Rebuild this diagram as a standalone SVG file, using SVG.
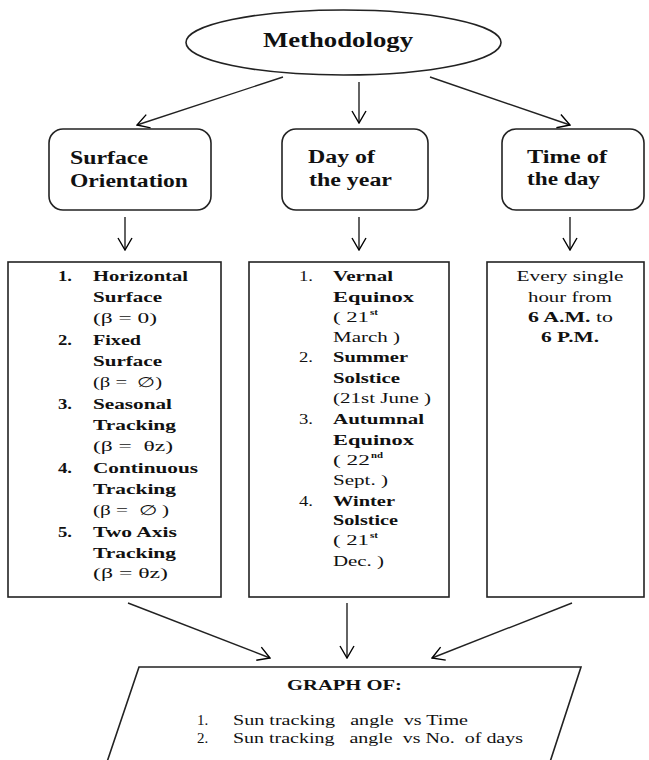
<svg xmlns="http://www.w3.org/2000/svg" width="649" height="760" viewBox="0 0 649 760">
<defs>
<marker id="arr" viewBox="0 0 14 16" refX="13" refY="8" markerWidth="14" markerHeight="16" markerUnits="userSpaceOnUse" orient="auto">
<path d="M1,1 L13,8 L1,15" fill="none" stroke="#000" stroke-width="1.4"/>
</marker>
<style>
.shape{fill:#fff;stroke:#222;stroke-width:1.6}
.conn{stroke:#222;stroke-width:1.4;fill:none;marker-end:url(#arr)}
text{font-family:"Liberation Serif","Times New Roman",serif;fill:#111;white-space:pre}
.t{font-size:21px;font-weight:bold}
.h{font-size:18px;font-weight:bold}
.b{font-size:14px;font-weight:bold}
.r{font-size:14px}
.g{font-size:15px}
.gb{font-size:15px;font-weight:bold}
.sup{font-size:9px;font-weight:bold}
</style>
</defs>
<rect width="649" height="760" fill="#fff"/>

<g id="connectors">
<line class="conn" x1="283" y1="77" x2="137" y2="125"/>
<line class="conn" x1="359" y1="82" x2="359" y2="123"/>
<line class="conn" x1="430" y1="77" x2="570" y2="125"/>
<line class="conn" x1="125" y1="217" x2="125" y2="250"/>
<line class="conn" x1="359" y1="217" x2="359" y2="250"/>
<line class="conn" x1="570" y1="217" x2="570" y2="250"/>
<line class="conn" x1="128" y1="603" x2="270" y2="658"/>
<line class="conn" x1="347" y1="603" x2="347" y2="658"/>
<line class="conn" x1="572" y1="603" x2="432" y2="658"/>
</g>

<g id="methodology">
<ellipse class="shape" cx="343.5" cy="42.5" rx="157.5" ry="32.5"/>
<text class="t" x="263" y="47" textLength="150" lengthAdjust="spacingAndGlyphs">Methodology</text>
</g>

<g id="surface-orientation">
<rect class="shape" x="49" y="129" width="162" height="81" rx="14"/>
<text class="h" x="70" y="164" textLength="78" lengthAdjust="spacingAndGlyphs">Surface</text>
<text class="h" x="70" y="187" textLength="118" lengthAdjust="spacingAndGlyphs">Orientation</text>
</g>

<g id="day-of-year">
<rect class="shape" x="282" y="129" width="146" height="81" rx="14"/>
<text class="h" x="308" y="163" textLength="67" lengthAdjust="spacingAndGlyphs">Day of</text>
<text class="h" x="309" y="186" textLength="83" lengthAdjust="spacingAndGlyphs">the year</text>
</g>

<g id="time-of-day">
<rect class="shape" x="502" y="129" width="142" height="81" rx="14"/>
<text class="h" x="527" y="163" textLength="80" lengthAdjust="spacingAndGlyphs">Time of</text>
<text class="h" x="527" y="185" textLength="73" lengthAdjust="spacingAndGlyphs">the day</text>
</g>

<g id="surface-list">
<rect class="shape" x="8" y="262" width="213" height="335"/>
<text class="b" x="58" y="281" textLength="14" lengthAdjust="spacingAndGlyphs">1.</text>
<text class="b" x="93" y="281" textLength="95" lengthAdjust="spacingAndGlyphs">Horizontal</text>
<text class="b" x="93" y="302" textLength="69" lengthAdjust="spacingAndGlyphs">Surface</text>
<text class="r" x="93" y="323" textLength="64" lengthAdjust="spacingAndGlyphs">(β = 0)</text>
<text class="b" x="58" y="345" textLength="14" lengthAdjust="spacingAndGlyphs">2.</text>
<text class="b" x="93" y="345" textLength="48" lengthAdjust="spacingAndGlyphs">Fixed</text>
<text class="b" x="93" y="366" textLength="69" lengthAdjust="spacingAndGlyphs">Surface</text>
<text class="r" x="93" y="387" textLength="69" lengthAdjust="spacingAndGlyphs">(β =  ∅)</text>
<text class="b" x="58" y="409" textLength="14" lengthAdjust="spacingAndGlyphs">3.</text>
<text class="b" x="93" y="409" textLength="79" lengthAdjust="spacingAndGlyphs">Seasonal</text>
<text class="b" x="93" y="430" textLength="83" lengthAdjust="spacingAndGlyphs">Tracking</text>
<text class="r" x="93" y="451" textLength="80" lengthAdjust="spacingAndGlyphs">(β =  θz)</text>
<text class="b" x="58" y="473" textLength="14" lengthAdjust="spacingAndGlyphs">4.</text>
<text class="b" x="93" y="473" textLength="105" lengthAdjust="spacingAndGlyphs">Continuous</text>
<text class="b" x="93" y="494" textLength="83" lengthAdjust="spacingAndGlyphs">Tracking</text>
<text class="r" x="93" y="515" textLength="76" lengthAdjust="spacingAndGlyphs">(β =  ∅ )</text>
<text class="b" x="58" y="537" textLength="14" lengthAdjust="spacingAndGlyphs">5.</text>
<text class="b" x="93" y="537" textLength="84" lengthAdjust="spacingAndGlyphs">Two Axis</text>
<text class="b" x="93" y="558" textLength="83" lengthAdjust="spacingAndGlyphs">Tracking</text>
<text class="r" x="93" y="578" textLength="75" lengthAdjust="spacingAndGlyphs">(β = θz)</text>
</g>

<g id="day-list">
<rect class="shape" x="249" y="262" width="200" height="335"/>
<text class="r" x="299" y="281" textLength="14" lengthAdjust="spacingAndGlyphs">1.</text>
<text class="b" x="333" y="281" textLength="60" lengthAdjust="spacingAndGlyphs">Vernal</text>
<text class="b" x="333" y="302" textLength="81" lengthAdjust="spacingAndGlyphs">Equinox</text>
<text class="r" x="333" y="322" textLength="36" lengthAdjust="spacingAndGlyphs">( 21</text>
<text class="sup" x="370" y="315" textLength="8" lengthAdjust="spacingAndGlyphs">st</text>
<text class="r" x="333" y="342" textLength="67" lengthAdjust="spacingAndGlyphs">March )</text>
<text class="r" x="299" y="362" textLength="14" lengthAdjust="spacingAndGlyphs">2.</text>
<text class="b" x="333" y="362" textLength="75" lengthAdjust="spacingAndGlyphs">Summer</text>
<text class="b" x="333" y="383" textLength="67" lengthAdjust="spacingAndGlyphs">Solstice</text>
<text class="r" x="333" y="403" textLength="98" lengthAdjust="spacingAndGlyphs">(21st June )</text>
<text class="r" x="299" y="424" textLength="14" lengthAdjust="spacingAndGlyphs">3.</text>
<text class="b" x="333" y="424" textLength="91" lengthAdjust="spacingAndGlyphs">Autumnal</text>
<text class="b" x="333" y="445" textLength="81" lengthAdjust="spacingAndGlyphs">Equinox</text>
<text class="r" x="333" y="465" textLength="37" lengthAdjust="spacingAndGlyphs">( 22</text>
<text class="sup" x="371" y="458" textLength="12" lengthAdjust="spacingAndGlyphs">nd</text>
<text class="r" x="333" y="485" textLength="55" lengthAdjust="spacingAndGlyphs">Sept. )</text>
<text class="r" x="299" y="506" textLength="14" lengthAdjust="spacingAndGlyphs">4.</text>
<text class="b" x="333" y="506" textLength="62" lengthAdjust="spacingAndGlyphs">Winter</text>
<text class="b" x="333" y="525" textLength="65" lengthAdjust="spacingAndGlyphs">Solstice</text>
<text class="r" x="333" y="545" textLength="36" lengthAdjust="spacingAndGlyphs">( 21</text>
<text class="sup" x="370" y="538" textLength="8" lengthAdjust="spacingAndGlyphs">st</text>
<text class="r" x="333" y="566" textLength="51" lengthAdjust="spacingAndGlyphs">Dec. )</text>
</g>

<g id="time-list">
<rect class="shape" x="487" y="262" width="157" height="335"/>
<text class="r" x="570" y="281" text-anchor="middle" textLength="107" lengthAdjust="spacingAndGlyphs">Every single</text>
<text class="r" x="570" y="302" text-anchor="middle" textLength="84" lengthAdjust="spacingAndGlyphs">hour from</text>
<text class="r" x="528" y="322" textLength="85" lengthAdjust="spacingAndGlyphs"><tspan font-weight="bold">6 A.M.</tspan> to</text>
<text class="b" x="570" y="342" text-anchor="middle" textLength="58" lengthAdjust="spacingAndGlyphs">6 P.M.</text>
</g>

<g id="graph-of">
<polygon class="shape" points="139,667 581,667 550,762 107,762"/>
<text class="gb" x="287" y="690" textLength="115" lengthAdjust="spacingAndGlyphs">GRAPH OF:</text>
<text class="g" x="197" y="725">1.</text>
<text class="g" x="233" y="725" textLength="235" lengthAdjust="spacingAndGlyphs">Sun tracking   angle  vs Time</text>
<text class="g" x="197" y="743">2.</text>
<text class="g" x="233" y="743" textLength="290" lengthAdjust="spacingAndGlyphs">Sun tracking   angle  vs No.  of days</text>
</g>
</svg>
